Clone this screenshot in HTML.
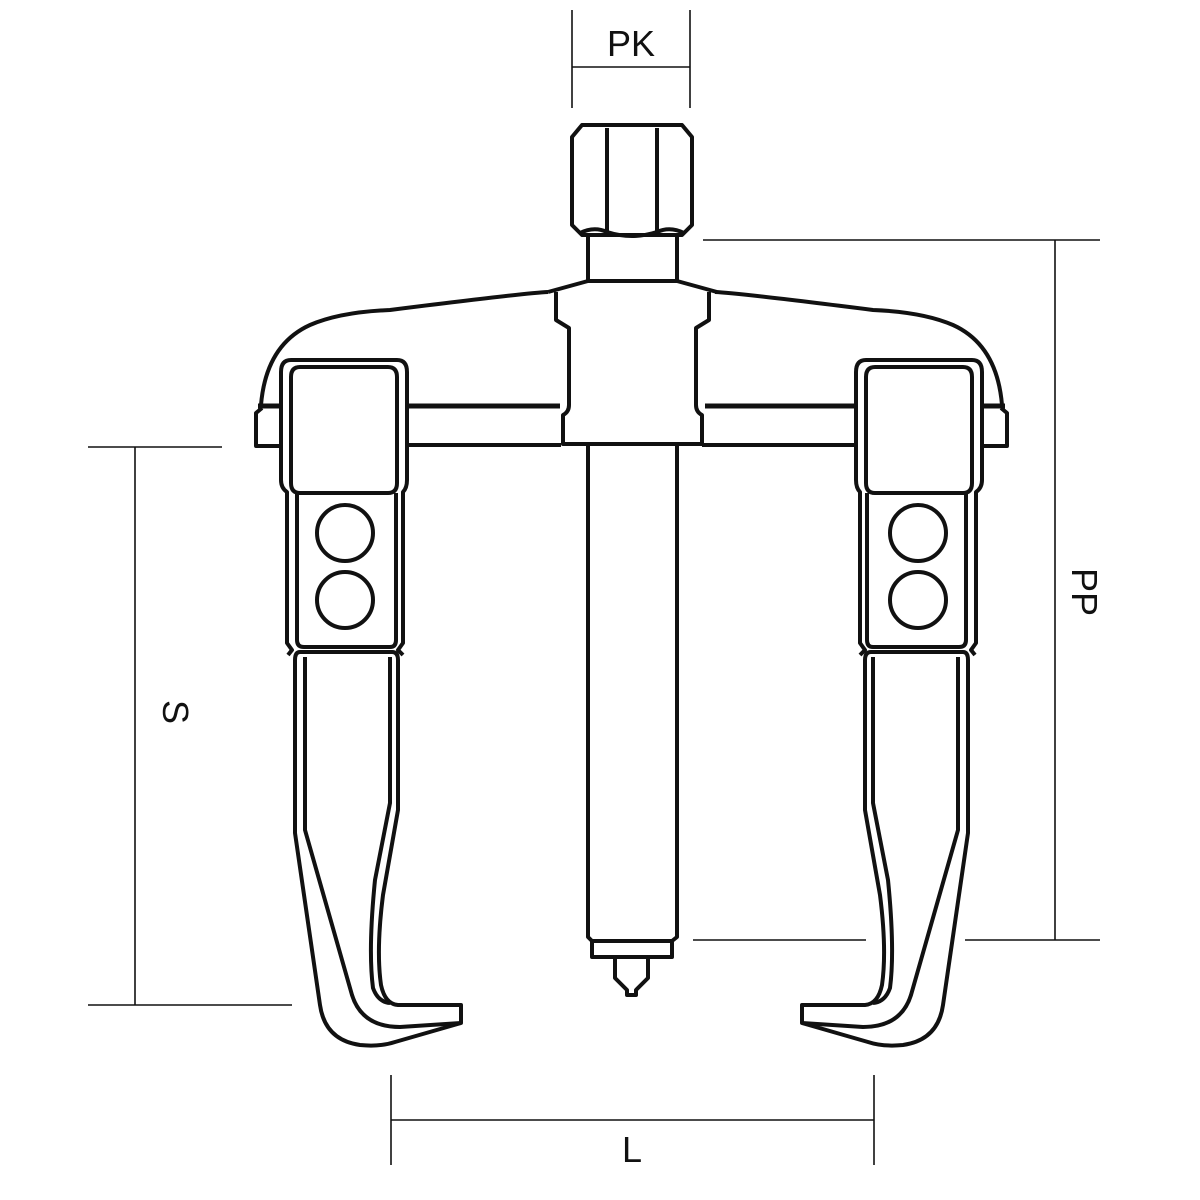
<!DOCTYPE html>
<html><head><meta charset="utf-8"><style>html,body{margin:0;padding:0;background:#fff}svg{display:block}</style></head><body>
<svg width="1200" height="1200" viewBox="0 0 1200 1200" xmlns="http://www.w3.org/2000/svg">
<g fill="none" stroke="#111" stroke-width="1.6">
<line x1="572" y1="10" x2="572" y2="108"/><line x1="690" y1="10" x2="690" y2="108"/><line x1="572" y1="67" x2="690" y2="67"/>
<line x1="703" y1="240" x2="1100" y2="240"/><line x1="693" y1="940" x2="866" y2="940"/><line x1="965" y1="940" x2="1100" y2="940"/><line x1="1055" y1="240" x2="1055" y2="940"/>
<line x1="88" y1="447" x2="222" y2="447"/><line x1="88" y1="1005" x2="292" y2="1005"/><line x1="135" y1="447" x2="135" y2="1005"/>
<line x1="391" y1="1075" x2="391" y2="1165"/><line x1="874" y1="1075" x2="874" y2="1165"/><line x1="391" y1="1120" x2="874" y2="1120"/>
</g>
<g font-family="Liberation Sans, sans-serif" font-size="36" fill="#111" text-anchor="middle">
<text x="631" y="56">PK</text>
<text x="632" y="1162">L</text>
<text transform="translate(1072,592) rotate(90)">PP</text>
<text transform="translate(163,712) rotate(90)">S</text>
</g>
<g fill="none" stroke="#111" stroke-width="4" stroke-linejoin="round">
<path d="M582 125 H682 L692 137 V225 L682 235 H582 L572 225 V137 Z"/>
<line x1="607" y1="128" x2="607" y2="232"/><line x1="657" y1="128" x2="657" y2="232"/>
<path d="M580 233 Q594 226 607 232 Q632 240 657 232 Q670 226 684 233"/>
<path d="M588 235 V281 M677 235 V281"/>
<path d="M548 292 L588 281 H677 L717 292"/>
<path d="M556 292 V320 L569 328 V405 Q569 412 563 415 V444 H702 V415 Q696 412 696 405 V328 L709 320 V292"/>
<path d="M588 444 V937 L592 941 H672 L677 937 V444"/>
<path d="M592 941 V957 H672 V941"/>
<path d="M615 957 V978 L627 990 V995 H636 V990 L648 978 V957"/>
<line x1="407" y1="406" x2="560" y2="406" stroke-width="5"/>
<line x1="705" y1="406" x2="858" y2="406" stroke-width="5"/>
<line x1="407" y1="445" x2="561" y2="445"/><line x1="702" y1="445" x2="858" y2="445"/>
</g>
<g id="L" fill="none" stroke="#111" stroke-width="4" stroke-linejoin="round">
<path d="M548 292 Q525 293 390 310 Q340 312 310 325 Q266 345 261 405"/>
<line x1="258" y1="406" x2="283" y2="406" stroke-width="5"/>
<path d="M262 408 L256 413 V446 H283"/>
<path d="M291 360 H397 Q407 360 407 372 V480 Q407 488 403 492 V643 L398 650 L403 655 M291 360 Q281 360 281 372 V480 Q281 488 287 492 V643 L292 650 L288 655"/>
<path d="M300 367 H388 Q397 367 397 377 V483 Q397 493 388 493 H300 Q291 493 291 483 V377 Q291 367 300 367 Z"/>
<path d="M297 493 V640 Q297 647 304 647 H390 Q396 647 396 640 V493"/>
<circle cx="345" cy="533" r="28"/><circle cx="345" cy="600" r="28"/>
<path d="M300 652 H392 Q398 652 398 660 V810 L383 895 Q376 950 381 985 Q385 1004 398 1005 H461 V1023 L395 1042 Q380 1047 360 1045 Q325 1040 320 1005 L295 833 V660 Q295 652 300 652"/>
<path d="M305 657 V830 L352 995 Q362 1027 400 1027 L461 1023"/>
<path d="M390 657 V803 L375 880 Q368 950 373 988 Q378 1002 390 1003"/>
</g>
<use href="#L" transform="translate(1263,0) scale(-1,1)"/>
</svg>
</body></html>
